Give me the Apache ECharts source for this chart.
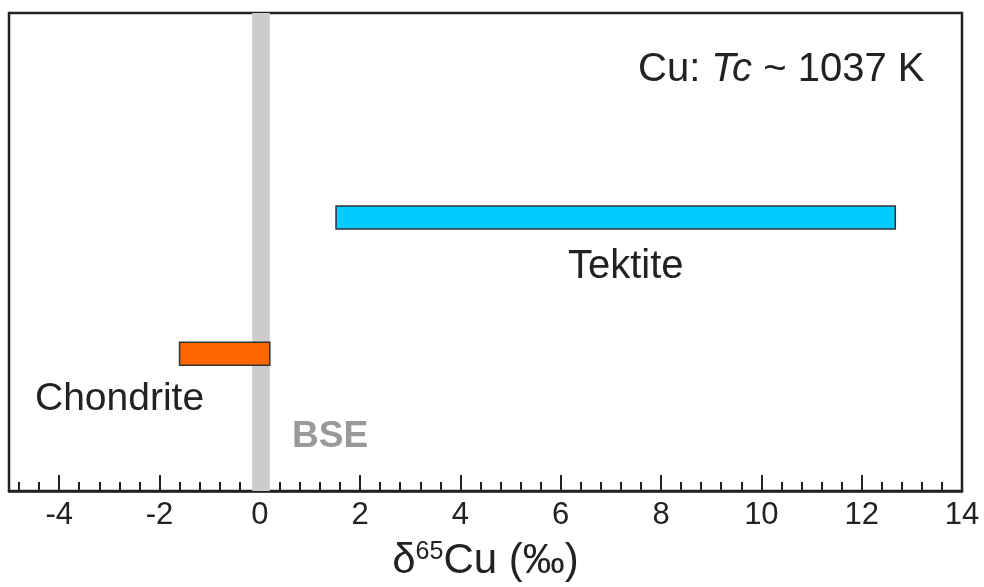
<!DOCTYPE html>
<html lang="en">
<head>
  <meta charset="UTF-8">
  <title>Cu: Tc ~ 1037 K</title>
  <script src="https://cdn.jsdelivr.net/npm/echarts@6/dist/echarts.min.js"></script>
  <style>
    html, body { margin: 0; padding: 0; background: #fff; }
  </style>
</head>
<body>
  <div id="main" style="width: 984px;height:587px"></div>
  <script>
    // x axis range and tick labels
    var xMin = -5;
    var xMax = 14;
    var majorTicks = [-4, -2, 0, 2, 4, 6, 8, 10, 12, 14];
    // ranges (permil) per group
    var groups = ['Tektite', 'Chondrite'];
    var lowValues = [1.52, -1.6];
    var highValues = [12.67, 0.2];
    var rowPos = [5.72, 2.87];
    var barColors = ['#00ccff', '#ff6600'];
    // BSE band
    var bseRange = [-0.15, 0.2];

    // minor ticks: 5 steps inside every major interval
    var minorTicks = [];
    var allMajor = [-6].concat(majorTicks);
    for (var i = 0; i < allMajor.length - 1; i++) {
      var step = (allMajor[i + 1] - allMajor[i]) / 5;
      for (var k = 1; k < 5; k++) {
        var v = +(allMajor[i] + step * k).toFixed(2);
        if (v > xMin) minorTicks.push(v);
      }
    }

    var myChart = echarts.init(document.getElementById('main'));
    var font = 'Liberation Sans, Arial, sans-serif';

    var option = {
      animation: false,
      grid: {
        left: 9, right: 22, top: 13, bottom: 96,
        outerBoundsMode: 'none',
        containLabel: false,
        show: true, borderColor: '#222', borderWidth: 2.5,
        backgroundColor: 'transparent'
      },
      xAxis: [
        {
          type: 'value', min: xMin, max: xMax, position: 'bottom',
          splitLine: { show: false },
          axisLine: { show: true, onZero: false, lineStyle: { color: '#222', width: 2.5 } },
          axisTick: { show: true, inside: true, length: 16, customValues: majorTicks, lineStyle: { color: '#222', width: 2 } },
          axisLabel: {
            customValues: majorTicks, margin: 9,
            fontSize: 31, color: '#222', fontFamily: font,
            showMinLabel: true, showMaxLabel: true
          },
          name: '{d|δ}{s|65}{d|Cu (‰)}',
          nameLocation: 'middle',
          nameGap: 49,
          nameTextStyle: {
            fontFamily: font,
            rich: {
              d: { fontSize: 42, color: '#222', fontFamily: font },
              s: { fontSize: 25, color: '#222', fontFamily: font, padding: [0, 0, 17, 0] }
            }
          }
        },
        {
          type: 'value', min: xMin, max: xMax, position: 'bottom',
          splitLine: { show: false },
          axisLine: { show: false },
          axisTick: { show: true, inside: true, length: 9, customValues: minorTicks, lineStyle: { color: '#222', width: 2 } },
          axisLabel: { show: false }
        }
      ],
      yAxis: {
        type: 'value', min: 0, max: 10, show: false
      },
      series: [
        {
          name: 'BSE',
          type: 'custom',
          z: 1,
          data: [bseRange],
          renderItem: function (params, api) {
            var a = api.coord([api.value(0), 0]);
            var b = api.coord([api.value(1), 0]);
            return {
              type: 'rect',
              shape: { x: a[0], y: params.coordSys.y, width: b[0] - a[0], height: params.coordSys.height },
              style: { fill: '#cccccc' }
            };
          }
        },
        {
          name: 'ranges',
          type: 'custom',
          z: 5,
          data: groups.map(function (g, i) {
            return { name: g, value: [lowValues[i], highValues[i], rowPos[i]], itemStyle: { color: barColors[i] } };
          }),
          renderItem: function (params, api) {
            var a = api.coord([api.value(0), api.value(2)]);
            var b = api.coord([api.value(1), api.value(2)]);
            var h = 23;
            return {
              type: 'rect',
              shape: { x: a[0], y: a[1] - h / 2, width: b[0] - a[0], height: h },
              style: { fill: api.visual('color'), stroke: '#333', lineWidth: 1.5 }
            };
          }
        }
      ],
      graphic: [
        {
          type: 'text', left: 638, top: 50,
          style: {
            text: '{n|Cu: }{i|Tc}{n| ~ 1037 K}',
            rich: {
              n: { fontSize: 40, fill: '#222', fontFamily: font },
              i: { fontSize: 40, fill: '#222', fontFamily: font, fontStyle: 'italic' }
            }
          }
        },
        {
          type: 'text', left: 568, top: 247,
          style: { text: 'Tektite', fontSize: 40, fill: '#222', fontFamily: font }
        },
        {
          type: 'text', left: 35, top: 380,
          style: { text: 'Chondrite', fontSize: 39, fill: '#222', fontFamily: font }
        },
        {
          type: 'text', left: 292, top: 418,
          style: { text: 'BSE', fontSize: 37, fontWeight: 'bold', fill: '#999999', fontFamily: font }
        }
      ]
    };
    myChart.setOption(option);
  </script>
</body>
</html>
